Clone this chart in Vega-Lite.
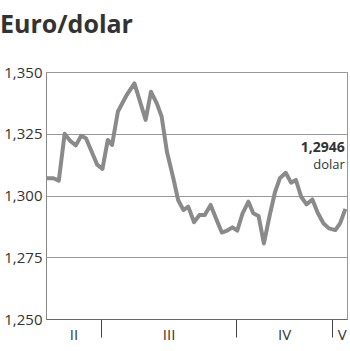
{
  "$schema": "https://vega.github.io/schema/vega-lite/v6.json",
  "width": 301,
  "height": 247,
  "autosize": {"type": "none"},
  "padding": {"left": 46, "top": 72, "right": 3, "bottom": 32},
  "background": "white",
  "title": {
    "text": "Euro/dolar",
    "anchor": "start",
    "frame": "group",
    "font": "Open Sans",
    "fontSize": 25,
    "fontWeight": "bold",
    "color": "#333333",
    "dx": -46,
    "offset": 27
  },
  "config": {
    "view": {"stroke": "#999999", "strokeWidth": 1},
    "axis": {
      "labelFont": "Open Sans",
      "labelFontSize": 15,
      "labelColor": "#333333",
      "title": null
    }
  },
  "resolve": {"axis": {"x": "independent"}},
  "layer": [
    {
      "data": {
        "values": [
          {"t": 0.1, "v": 1.307},
          {"t": 1.4, "v": 1.307},
          {"t": 2.4, "v": 1.306},
          {"t": 3.5, "v": 1.325},
          {"t": 4.6, "v": 1.322},
          {"t": 5.6, "v": 1.3203},
          {"t": 6.6, "v": 1.3242},
          {"t": 7.5, "v": 1.3232},
          {"t": 8.7, "v": 1.3171},
          {"t": 9.6, "v": 1.3125},
          {"t": 10.6, "v": 1.3108},
          {"t": 11.6, "v": 1.3225},
          {"t": 12.4, "v": 1.3205},
          {"t": 13.5, "v": 1.334},
          {"t": 15.1, "v": 1.3405},
          {"t": 16.6, "v": 1.3454},
          {"t": 18.7, "v": 1.3306},
          {"t": 19.7, "v": 1.342},
          {"t": 20.8, "v": 1.3373},
          {"t": 21.7, "v": 1.332},
          {"t": 22.7, "v": 1.3177},
          {"t": 23.9, "v": 1.307},
          {"t": 24.8, "v": 1.2982},
          {"t": 25.8, "v": 1.2941},
          {"t": 26.7, "v": 1.2955},
          {"t": 27.8, "v": 1.2892},
          {"t": 28.8, "v": 1.2921},
          {"t": 29.8, "v": 1.2921},
          {"t": 30.9, "v": 1.2962},
          {"t": 31.9, "v": 1.2908},
          {"t": 33.0, "v": 1.285},
          {"t": 34.0, "v": 1.2858},
          {"t": 35.0, "v": 1.2871},
          {"t": 35.9, "v": 1.2858},
          {"t": 36.9, "v": 1.2928},
          {"t": 38.0, "v": 1.2975},
          {"t": 38.9, "v": 1.2928},
          {"t": 39.9, "v": 1.2917},
          {"t": 40.9, "v": 1.2806},
          {"t": 42.0, "v": 1.2921},
          {"t": 43.0, "v": 1.3015},
          {"t": 43.9, "v": 1.307},
          {"t": 45.0, "v": 1.3092},
          {"t": 46.0, "v": 1.3052},
          {"t": 46.9, "v": 1.3063},
          {"t": 47.9, "v": 1.2995},
          {"t": 48.9, "v": 1.2964},
          {"t": 50.0, "v": 1.2984},
          {"t": 51.0, "v": 1.293},
          {"t": 52.1, "v": 1.2887},
          {"t": 53.1, "v": 1.2867},
          {"t": 54.3, "v": 1.286},
          {"t": 55.2, "v": 1.2887},
          {"t": 56.2, "v": 1.2946}
        ]
      },
      "mark": {"type": "line", "color": "#8a8a8a", "strokeWidth": 4, "strokeJoin": "round", "strokeCap": "butt"},
      "encoding": {
        "x": {
          "field": "t",
          "type": "quantitative",
          "scale": {"domain": [0, 56.5], "nice": false, "zero": false},
          "axis": {
            "orient": "bottom",
            "values": [10.3, 35.7, 53.7],
            "labels": false,
            "grid": false,
            "tickSize": 18,
            "tickColor": "#444444",
            "domainColor": "#666666"
          }
        },
        "y": {
          "field": "v",
          "type": "quantitative",
          "scale": {"domain": [1.25, 1.35], "nice": false, "zero": false},
          "axis": {
            "values": [1.25, 1.275, 1.3, 1.325, 1.35],
            "labelExpr": "replace(format(datum.value, '.3f'), '.', ',')",
            "ticks": false,
            "labelPadding": 4,
            "grid": true,
            "gridColor": "#999999",
            "domainColor": "#888888"
          }
        }
      }
    },
    {
      "data": {"values": [{"t": 56.1, "v": 1.3175, "label": "1,2946"}]},
      "mark": {"type": "text", "align": "right", "baseline": "alphabetic", "font": "Open Sans", "fontSize": 14, "fontWeight": "bold", "color": "#333333"},
      "encoding": {
        "x": {
          "field": "t",
          "type": "quantitative",
          "axis": {
            "orient": "bottom",
            "values": [5.15, 23, 44.7, 55.5],
            "labelExpr": "datum.value < 10 ? 'II' : datum.value < 30 ? 'III' : datum.value < 50 ? 'IV' : 'V'",
            "ticks": false,
            "domain": false,
            "grid": false,
            "labelPadding": 8
          }
        },
        "y": {"field": "v", "type": "quantitative"},
        "text": {"field": "label"}
      }
    },
    {
      "data": {"values": [{"t": 56.1, "v": 1.3108, "label": "dolar"}]},
      "mark": {"type": "text", "align": "right", "baseline": "alphabetic", "font": "Open Sans", "fontSize": 13, "color": "#333333"},
      "encoding": {
        "x": {"field": "t", "type": "quantitative", "axis": null},
        "y": {"field": "v", "type": "quantitative"},
        "text": {"field": "label"}
      }
    }
  ]
}
